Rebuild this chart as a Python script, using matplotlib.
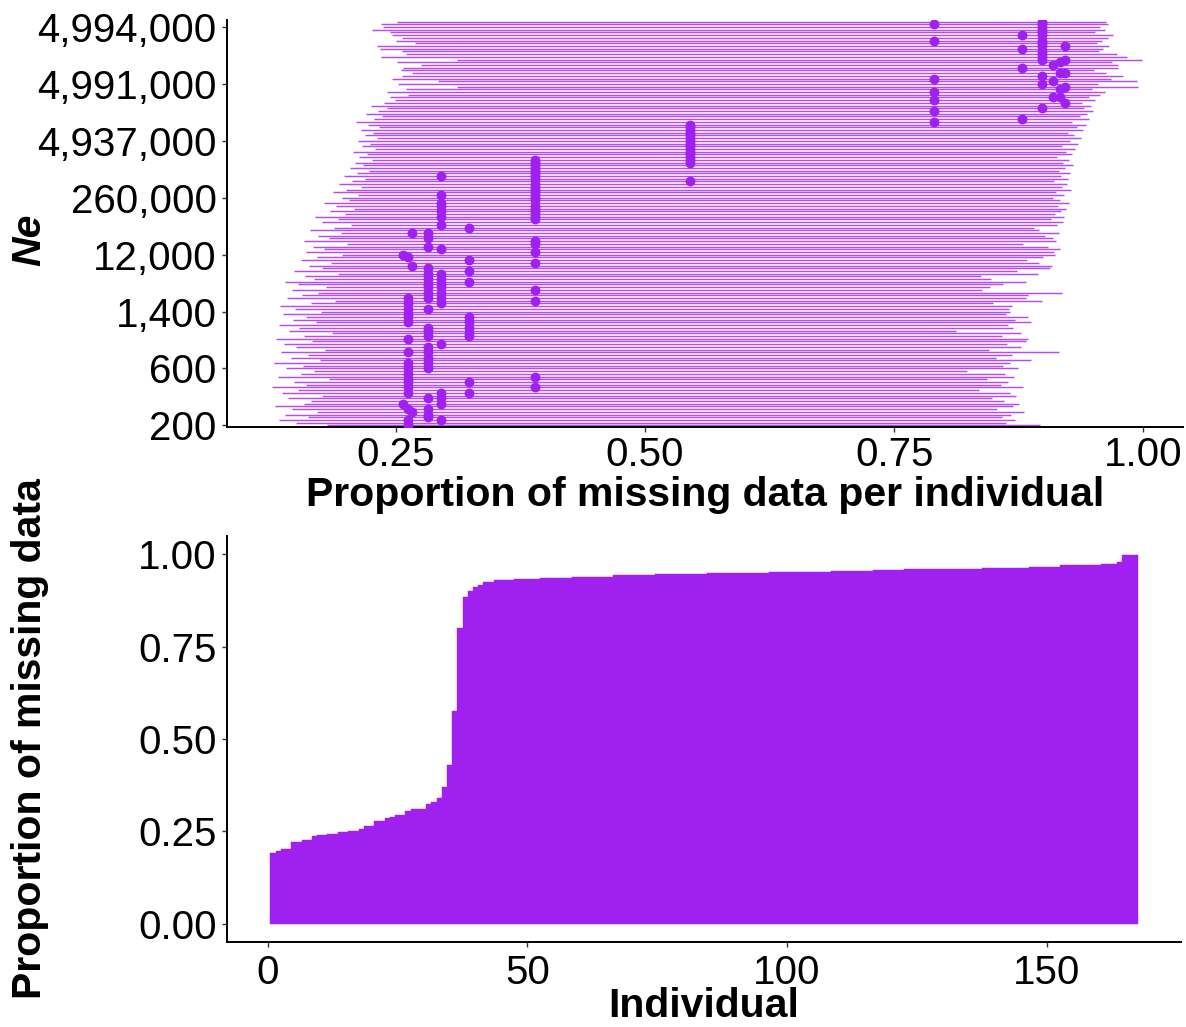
#!/usr/bin/env python3
"""Missing data per individual vs Ne (top) and sorted missing data per individual (bottom)."""

import matplotlib
matplotlib.use("Agg")
import matplotlib.pyplot as plt

PURPLE = "#A020F0"

# ---- top panel: one range line per row (bottom row first) ----
ne_tick_rows = [1, 22, 43, 64, 85, 106, 127, 148]
ne_tick_labels = ["200", "600", "1,400", "12,000", "260,000",
                  "4,937,000", "4,991,000", "4,994,000"]

range_left = [
    0.181, 0.150, 0.133, 0.162, 0.139, 0.171, 0.146, 0.128, 0.158, 0.165,
    0.142, 0.176, 0.136, 0.152, 0.125, 0.160, 0.148, 0.183, 0.131, 0.155,
    0.168, 0.140, 0.157, 0.127, 0.174, 0.145, 0.162, 0.135, 0.179, 0.150,
    0.138, 0.166, 0.129, 0.158, 0.186, 0.143, 0.153, 0.132, 0.170, 0.147,
    0.160, 0.137, 0.175, 0.149, 0.134, 0.165, 0.189, 0.141, 0.156, 0.172,
    0.146, 0.180, 0.152, 0.139, 0.168, 0.159, 0.192, 0.148, 0.176, 0.163,
    0.185, 0.155, 0.171, 0.196, 0.160, 0.178, 0.167, 0.201, 0.158, 0.183,
    0.172, 0.195, 0.164, 0.188, 0.205, 0.176, 0.192, 0.169, 0.199, 0.184,
    0.208, 0.190, 0.178, 0.203, 0.196, 0.212, 0.187, 0.200, 0.215, 0.193,
    0.206, 0.219, 0.198, 0.211, 0.223, 0.204, 0.217, 0.209, 0.226, 0.213,
    0.221, 0.207, 0.229, 0.216, 0.224, 0.212, 0.231, 0.219, 0.227, 0.215,
    0.233, 0.222, 0.210, 0.228, 0.236, 0.220, 0.232, 0.241, 0.225, 0.238,
    0.249, 0.244, 0.262, 0.241, 0.260, 0.311, 0.252, 0.292, 0.246, 0.256,
    0.266, 0.255, 0.257, 0.275, 0.251, 0.311, 0.235, 0.260, 0.256, 0.234,
    0.231, 0.269, 0.250, 0.256, 0.246, 0.244, 0.226, 0.237, 0.235, 0.251,
]
range_right = [
    0.896, 0.862, 0.871, 0.858, 0.867, 0.880, 0.853, 0.869, 0.875, 0.860,
    0.848, 0.872, 0.866, 0.835, 0.879, 0.857, 0.864, 0.843, 0.870, 0.861,
    0.823, 0.874, 0.859, 0.866, 0.887, 0.852, 0.868, 0.916, 0.845, 0.877,
    0.863, 0.882, 0.884, 0.858, 0.877, 0.812, 0.869, 0.864, 0.887, 0.871,
    0.884, 0.862, 0.866, 0.865, 0.868, 0.849, 0.898, 0.882, 0.884, 0.919,
    0.838, 0.846, 0.859, 0.882, 0.847, 0.837, 0.894, 0.873, 0.906, 0.908,
    0.895, 0.883, 0.899, 0.912, 0.910, 0.917, 0.904, 0.879, 0.913, 0.909,
    0.901, 0.916, 0.895, 0.890, 0.914, 0.920, 0.907, 0.921, 0.912, 0.918,
    0.923, 0.915, 0.926, 0.917, 0.909, 0.921, 0.913, 0.928, 0.919, 0.924,
    0.911, 0.925, 0.918, 0.927, 0.916, 0.922, 0.930, 0.920, 0.926, 0.914,
    0.929, 0.923, 0.932, 0.919, 0.935, 0.927, 0.938, 0.931, 0.925, 0.940,
    0.934, 0.943, 0.929, 0.946, 0.937, 0.944, 0.950, 0.941, 0.948, 0.939,
    0.952, 0.946, 0.957, 0.962, 0.949, 0.995, 0.955, 0.994, 0.968, 0.980,
    0.963, 0.951, 0.975, 0.975, 0.969, 0.999, 0.984, 0.974, 0.956, 0.960,
    0.966, 0.954, 0.959, 0.965, 0.970, 0.952, 0.962, 0.957, 0.965, 0.963,
]

# dots: one x value per column, rows holding a dot in that column
dot_col_x = [0.257, 0.262, 0.266, 0.282, 0.295, 0.323, 0.389, 0.545,
             0.790, 0.878, 0.898, 0.909, 0.917, 0.922]
dot_col_rows = [
    [9, 64],
    [1, 3, 7, 13, 15, 17, 18, 20, 22, 24, 28, 33, 39, 41, 42, 44, 46, 48, 63],
    [6, 60, 72],
    [4, 5, 7, 11, 22, 24, 26, 28, 30, 34, 36, 37, 44, 48, 50, 52, 53, 55,
     57, 59, 67, 70, 72],
    [3, 9, 11, 13, 31, 46, 48, 50, 52, 53, 55, 57, 66, 75, 78, 80, 82, 83,
     86, 93],
    [13, 17, 34, 35, 37, 39, 41, 54, 58, 62, 74],
    [15, 19, 47, 51, 61, 65, 68, 69, 77, 78, 79, 80, 81, 82, 84, 85, 86, 87,
     88, 89, 90, 92, 93, 94, 95, 96, 97, 98, 99],
    [91, 98, 99, 100, 101, 102, 103, 104, 105, 106, 107, 108, 109, 110, 111,
     112],
    [113, 117, 121, 124, 129, 143, 149],
    [114, 133, 140, 145],
    [118, 127, 130, 136, 137, 138, 139, 141, 142, 143, 145, 146, 147, 148,
     149, 150],
    [122, 128, 134],
    [122, 125, 131, 135],
    [120, 126, 131, 136, 141],
]

# ---- bottom panel: sorted proportion of missing data, 167 individuals ----
missing_sorted = [
    0.191, 0.196, 0.202, 0.202, 0.222, 0.222, 0.227, 0.227, 0.236, 0.240,
    0.240, 0.243, 0.243, 0.248, 0.248, 0.250, 0.250, 0.256, 0.264, 0.264,
    0.277, 0.277, 0.286, 0.290, 0.294, 0.294, 0.306, 0.309, 0.309, 0.309,
    0.324, 0.329, 0.340, 0.369, 0.429, 0.575, 0.801, 0.884, 0.902, 0.911,
    0.918, 0.925, 0.925, 0.931, 0.931, 0.931, 0.931, 0.934, 0.934, 0.934,
    0.934, 0.934, 0.937, 0.937, 0.937, 0.937, 0.937, 0.937, 0.940, 0.940,
    0.940, 0.940, 0.940, 0.940, 0.940, 0.940, 0.943, 0.943, 0.943, 0.943,
    0.943, 0.943, 0.943, 0.943, 0.946, 0.946, 0.946, 0.946, 0.946, 0.946,
    0.946, 0.946, 0.946, 0.946, 0.949, 0.949, 0.949, 0.949, 0.949, 0.949,
    0.949, 0.949, 0.949, 0.949, 0.949, 0.949, 0.952, 0.952, 0.952, 0.952,
    0.952, 0.952, 0.952, 0.952, 0.952, 0.952, 0.952, 0.952, 0.955, 0.955,
    0.955, 0.955, 0.955, 0.955, 0.955, 0.955, 0.958, 0.958, 0.958, 0.958,
    0.958, 0.958, 0.961, 0.961, 0.961, 0.961, 0.961, 0.961, 0.961, 0.961,
    0.961, 0.961, 0.961, 0.961, 0.961, 0.961, 0.961, 0.964, 0.964, 0.964,
    0.964, 0.964, 0.964, 0.964, 0.964, 0.964, 0.967, 0.967, 0.967, 0.967,
    0.967, 0.967, 0.971, 0.971, 0.971, 0.971, 0.971, 0.971, 0.971, 0.971,
    0.974, 0.974, 0.974, 0.979, 0.999, 0.999, 0.999,
]

plt.rcParams.update({
    "font.family": "Liberation Sans",
    "font.size": 29,
    "axes.linewidth": 1.4,
    "xtick.major.size": 3.5,
    "ytick.major.size": 3.5,
    "xtick.major.width": 1.0,
    "ytick.major.width": 1.0,
    "xtick.color": "#333333",
    "ytick.color": "#333333",
    "xtick.labelcolor": "black",
    "ytick.labelcolor": "black",
    "xtick.major.pad": 3,
    "ytick.major.pad": 4,
})

W, H = 1186, 1027
fig = plt.figure(figsize=(W / 100, H / 100), dpi=100)
ax1 = fig.add_axes([227 / W, 1 - 427 / H, 956 / W, 407 / H])
ax2 = fig.add_axes([227 / W, 1 - 942 / H, 954 / W, 406 / H])

# top panel
rows = list(range(1, len(range_left) + 1))
ax1.hlines(rows, range_left, range_right, color=PURPLE, linewidth=1.05,
           alpha=0.8)
for x, rr in zip(dot_col_x, dot_col_rows):
    ax1.scatter([x] * len(rr), rr, s=50, color=PURPLE, linewidths=0, zorder=3)

ax1.set_xlim(0.0803, 1.040)
ax1.set_ylim(0.4, len(rows) + 0.6)
ax1.set_xticks([0.25, 0.50, 0.75, 1.00])
ax1.set_xticklabels(["0.25", "0.50", "0.75", "1.00"])
ax1.set_yticks(ne_tick_rows)
ax1.set_yticklabels(ne_tick_labels)
ax1.set_xlabel("Proportion of missing data per individual", fontsize=29.5,
               fontweight="bold", va="center")
ax1.xaxis.set_label_coords(0.5, -0.167)
ax1.set_ylabel("Ne", fontsize=29.5, fontweight="bold", fontstyle="italic",
               va="center")
ax1.yaxis.set_label_coords(-0.207, 0.46)

# bottom panel
individuals = list(range(1, len(missing_sorted) + 1))
ax2.bar(individuals, missing_sorted, width=1.0, color=PURPLE,
        edgecolor=PURPLE, linewidth=0.3)
ax2.set_xlim(-7.85, 175.85)
ax2.set_ylim(-0.05, 1.05)
ax2.set_xticks([0, 50, 100, 150])
ax2.set_yticks([0, 0.25, 0.5, 0.75, 1.0])
ax2.set_yticklabels(["0.00", "0.25", "0.50", "0.75", "1.00"])
ax2.tick_params(axis="x", pad=5)
ax2.set_xlabel("Individual", fontsize=29.5, fontweight="bold", va="center")
ax2.xaxis.set_label_coords(0.5, -0.158)
ax2.set_ylabel("Proportion of missing data", fontsize=29.5,
               fontweight="bold", va="center")
ax2.yaxis.set_label_coords(-0.206, 0.5)

for ax in (ax1, ax2):
    for side in ("top", "right"):
        ax.spines[side].set_visible(False)

fig.savefig("out.png", dpi=100)
